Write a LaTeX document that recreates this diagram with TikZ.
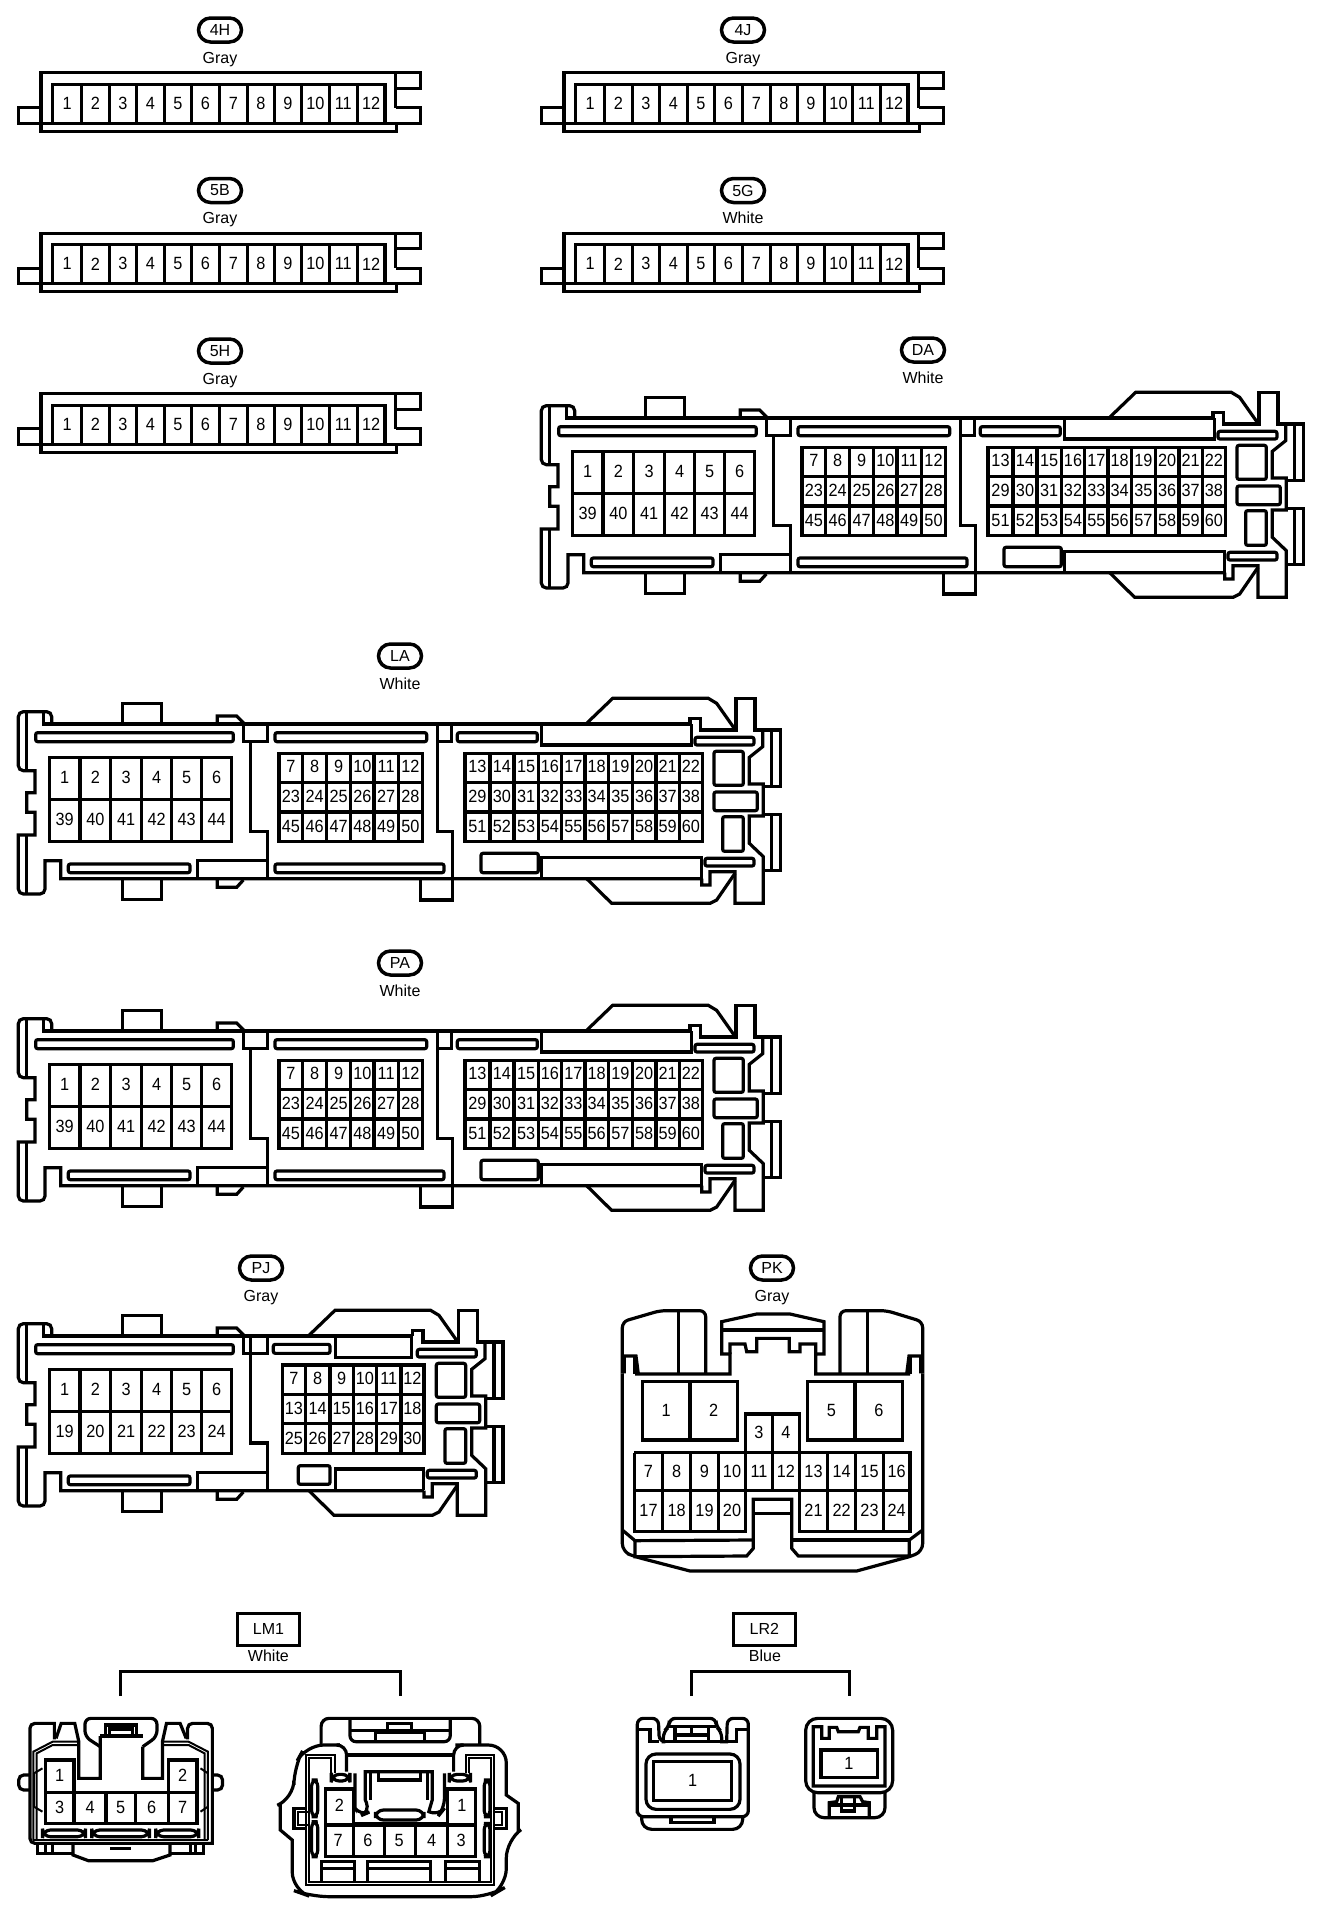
\documentclass[tikz,border=0pt]{standalone}
\usepackage{fontspec}
\setmainfont{Liberation Sans}
\newfontfamily\cellfont[FakeStretch=0.92]{Liberation Sans}
\usetikzlibrary{shapes.misc}
\tikzset{
  ink/.style={line width=3.2pt,line join=miter},
  thinwall/.style={line width=2pt},
  num/.style={inner sep=0pt,font=\cellfont\fontsize{17.7}{18}\selectfont},
  tagbox/.style={draw,rounded rectangle,line width=3.5pt,minimum width=43pt,minimum height=24pt,inner sep=0pt,font=\fontsize{16}{16}\selectfont},
  colourtext/.style={inner sep=0pt,anchor=base,font=\fontsize{16}{16}\selectfont},
  namebox/.style={draw,line width=3.2pt,minimum width=62pt,minimum height=32pt,inner sep=0pt,font=\fontsize{16}{16}\selectfont},
  zoomunits/.style={x=0.33333pt,y=-0.33333pt},
  zoomwide/.style={x=0.3398pt,y=-0.33333pt},
}
% row of consecutive numbers: y centre, cell boundaries, first number
\newcommand\numrow[3]{%
  \foreach \xb [remember=\xb as \xa (initially 0),count=\ci from 0] in {#2}{%
    \ifnum\ci>0
      \pgfmathtruncatemacro\cn{#3+\ci-1}%
      \node[num] at ({(\xa+\xb)/2},#1) {\cn};%
    \fi}}
% frame x0,x1,y0,y1 ; vertical separators ; horizontal separators
\newcommand\cellgrid[6]{%
  \draw (#1,#3) rectangle (#2,#4);
  \foreach \xv in {#5}{\draw (\xv,#3)--(\xv,#4);}
  \foreach \yv in {#6}{\draw (#1,\yv)--(#2,\yv);}}
\newcommand\conntag[5]{% node name, text, x, y, colour
  \node[tagbox] (tag#1) at (#3,#4) {#2};
  \node[colourtext] (col#1) at (#3,#4+33) {#5};}
% twelve-pin connector
\newcommand\twelve[2]{%
\begin{scope}[shift={(#1,#2)},zoomunits]
  \draw (123,323)--(55,323)--(55,370)--(1262,370)--(1262,323)--(1187,323);
  \draw (1187,218)--(1187,323);
  \draw (1187,265)--(1262,265)--(1262,218)--(123,218)--(123,394)--(1190,394)--(1190,370);
  \cellgrid{158}{1155}{253}{370}{245,328,410,493,575,658,742,823,905,988,1072}{}
  \numrow{310}{158,245,328,410,493,575,658,742,823,905,988,1072,1155}{1}
\end{scope}}
% left half shared by the long connectors (zoom units)
\newcommand\leftpart[3]{%
  \draw (155,252) [rounded corners=5pt] --(155,215)--(55,215) --(55,392) [sharp corners] --(105,392)--(105,458)--(80,458)--(80,517)--(105,517)--(105,585)--(55,585) [rounded corners=5pt] --(55,762)--(135,762) [sharp corners] --(135,662)--(182,662)--(182,716)--(#2,716);
  \draw (130,215)--(130,252)--(#1,252);
  \draw (80,215)--(80,392);
  \draw (80,585)--(80,762);
  \draw (367,252)--(367,190)--(485,190)--(485,252);
  \draw (367,716)--(367,778)--(485,778)--(485,716);
  \draw (652,252)--(652,228)--(710,228)--(732,250);
  \draw (652,716)--(652,742)--(710,742)--(730,720);
  \draw[rounded corners=2pt] (107,278) rectangle (700,305);
  \draw[rounded corners=2pt] (205,672) rectangle (570,698);
  \draw (730,252)--(730,305)--(803,305)--(803,252);
  \draw (752,305)--(752,574)--(803,574)--(803,716);
  \draw (592,716)--(592,662)--(803,662);
  \cellgrid{148}{695}{352}{604}{240,332,425,515,605}{478}
  \numrow{412}{148,240,332,425,515,605,695}{1}
  \numrow{538}{148,240,332,425,515,605,695}{#3}
}
% right end shared by the long connectors (zoom units, 60-pin position)
\newcommand\rightend{%
  \draw (2070,252)--(2070,235)--(2102,235)--(2102,270)--(2208,270)--(2208,175)--(2265,175)--(2265,270)--(2342,270)--(2342,440)--(2290,440);
  \draw (2288,270)--(2288,320)--(2248,352)--(2248,432)--(2290,432)--(2290,528)--(2248,528)--(2248,610)--(2290,650)--(2290,790)--(2205,790)--(2205,695)--(2130,695)--(2130,735)--(2105,735)--(2105,716);
  \draw (2290,524)--(2342,524)--(2342,692)--(2290,692);
  \draw (2315,270)--(2315,440);
  \draw (2315,524)--(2315,692);
  \draw (1760,250)--(1838,175)--(2125,175)--(2150,190)--(2205,268);
  \draw (1760,716)--(1835,790)--(2130,790)--(2150,780)--(2205,700);
  \draw[rounded corners=2pt] (2085,292) rectangle (2262,315);
  \draw[rounded corners=2pt] (2115,655) rectangle (2262,678);
  \draw[rounded corners=2pt] (2142,334) rectangle (2230,436);
  \draw[rounded corners=2pt] (2142,456) rectangle (2272,512);
  \draw[rounded corners=2pt] (2168,530) rectangle (2230,634);
}
% sixty-pin connector at a pixel offset
\newcommand\sixty[2]{%
\begin{scope}[shift={(#1,#2)},zoomunits]
  \leftpart{2070}{2105}{39}
  \rightend
  \draw[rounded corners=2pt] (825,278) rectangle (1280,305);
  \draw[rounded corners=2pt] (825,672) rectangle (1332,698);
  \cellgrid{837}{1268}{340}{604}{908,980,1052,1122,1195}{428,516}
  \numrow{380}{837,908,980,1052,1122,1195,1268}{7}
  \numrow{470}{837,908,980,1052,1122,1195,1268}{23}
  \numrow{558}{837,908,980,1052,1122,1195,1268}{45}
  \draw (1312,252)--(1312,574)--(1358,574)--(1358,780)--(1262,780)--(1262,716);
  \draw (1312,305)--(1355,305)--(1355,252);
  \draw[rounded corners=2pt] (1372,278) rectangle (1612,305);
  \draw (1625,252)--(1625,315)--(2075,315)--(2075,252);
  \draw (1625,716)--(1625,652)--(2105,652)--(2105,716);
  \draw[rounded corners=2pt] (1443,640) rectangle (1615,698);
  \cellgrid{1395}{2107}{340}{604}{1470,1542,1615,1685,1755,1825,1897,1968,2038}{428,516}
  \numrow{380}{1395,1470,1542,1615,1685,1755,1825,1897,1968,2038,2107}{13}
  \numrow{470}{1395,1470,1542,1615,1685,1755,1825,1897,1968,2038,2107}{29}
  \numrow{558}{1395,1470,1542,1615,1685,1755,1825,1897,1968,2038,2107}{51}
\end{scope}}
\begin{document}
\begin{tikzpicture}[x=1pt,y=-1pt,ink]
\useasboundingbox (0,0) rectangle (1328,1914);
\fill[white] (0,0) rectangle (1328,1914);
% twelve-pin connectors
\twelve{0}{0}\conntag{4H}{4H}{220}{30}{Gray}
\twelve{523}{0}\conntag{4J}{4J}{743}{30}{Gray}
\twelve{0}{160.5}\conntag{5B}{5B}{220}{190.5}{Gray}
\twelve{523}{160.5}\conntag{5G}{5G}{743}{190.5}{White}
\twelve{0}{321}\conntag{5H}{5H}{220}{351}{Gray}
% sixty-pin connectors
\sixty{523}{334}\conntag{DA}{DA}{923}{350}{White}
\sixty{0}{640}\conntag{LA}{LA}{400}{656}{White}
\sixty{0}{947}\conntag{PA}{PA}{400}{963}{White}
% PJ
\conntag{PJ}{PJ}{261}{1268}{Gray}
\begin{scope}[shift={(0,1252)},zoomunits]
  \leftpart{1237}{1272}{19}
  \begin{scope}[shift={(-833,0)}]\rightend\end{scope}
\end{scope}
\begin{scope}[shift={(0,1270)},zoomunits]
  \draw (752,198)--(752,518)--(803,518)--(803,660);
  \draw (730,198)--(730,250)--(803,250)--(803,198);
  \draw (592,660)--(592,607)--(803,607);
  \draw[rounded corners=2pt] (820,223) rectangle (990,250);
  \draw (1007,198)--(1007,262)--(1235,262)--(1235,198);
  \draw (1007,660)--(1007,597)--(1270,597)--(1270,660);
  \draw[rounded corners=2pt] (895,587) rectangle (990,643);
  \cellgrid{847}{1272}{285}{550}{916,990,1060,1130,1203}{373,461}
  \numrow{325}{847,916,990,1060,1130,1203,1272}{7}
  \numrow{415}{847,916,990,1060,1130,1203,1272}{13}
  \numrow{505}{847,916,990,1060,1130,1203,1272}{25}
\end{scope}
% PK
\conntag{PK}{PK}{772}{1268}{Gray}
\begin{scope}[shift={(610,1270)},zoomunits]
  \draw (37,310) [rounded corners=6pt] --(37,155)--(150,122)--(287,122) [sharp corners] --(287,312);
  \draw (690,312) [rounded corners=6pt] --(690,122)--(830,122)--(938,155) [sharp corners] --(938,310);
  \draw (205,122)--(205,312);
  \draw (773,122)--(773,312);
  \draw (75,312)--(360,312)--(360,252)--(335,252)--(335,155)--(440,132)--(540,132)--(642,155)--(642,252)--(617,252)--(617,312)--(900,312);
  \draw (335,180)--(642,180);
  \draw (360,252)--(360,222)--(405,222)--(410,245)--(440,245)--(440,205)--(538,205)--(538,245)--(570,245)--(570,222)--(617,222)--(617,252);
  \draw (43,310)--(43,258)--(78,258)--(85,312);
  \draw (75,258)--(75,312);
  \draw (932,310)--(932,258)--(897,258)--(890,312);
  \draw (900,258)--(900,312);
  \draw (37,310) [rounded corners=8pt] --(37,845)--(75,860) [sharp corners] --(240,903)--(740,903)--(898,860) [rounded corners=8pt] --(938,845) [sharp corners] --(938,310);
  \draw (37,780)--(75,812)--(430,810);
  \draw (75,812)--(75,860)--(410,858)--(430,835)--(430,688)--(545,688)--(545,835)--(565,858)--(898,858)--(898,810)--(938,780);
  \draw (545,810)--(898,810);
  \draw (430,730)--(545,730);
  \cellgrid{97}{382}{335}{510}{240}{}
  \cellgrid{593}{878}{335}{510}{735}{}
  \draw (407,548)--(407,432)--(568,432)--(568,548);
  \draw (487,432)--(487,662);
  \draw (73,548)--(900,548)--(900,785)--(568,785)--(568,548);
  \draw (73,548)--(73,785)--(407,785)--(407,548);
  \draw (73,662)--(900,662);
  \foreach \xv in {158,242,325,653,737,820}{\draw (\xv,548)--(\xv,785);}
  \numrow{420}{97,240,382}{1}
  \numrow{420}{593,735,878}{5}
  \numrow{487}{407,487,568}{3}
  \numrow{605}{73,158,242,325,407,487,568,653,737,820,900}{7}
  \numrow{722}{73,158,242,325,407}{17}
  \numrow{722}{568,653,737,820,900}{21}
\end{scope}
% LM1
\begin{scope}[shift={(0,1610)},zoomwide]
  \node[namebox] (lm) at (790,58) {LM1};
  \node[colourtext] (lmc) at (790,155) {White};
  \draw (355,258)--(355,185)--(1178,185)--(1178,258);
  % left plug
  \draw (160,388)--(160,340)[rounded corners=5pt]--(88,340)--(88,700)[sharp corners]--(625,700)[rounded corners=5pt]--(625,340)--(552,340)[sharp corners]--(552,388);
  \draw (165,385)--(180,340)--(220,340)--(232,395)--(232,505)--(295,505)--(295,378);
  \draw (548,385)--(530,340)--(490,340)--(478,395)--(478,505)--(420,505)--(420,410);
  \draw[rounded corners=6pt] (295,410)--(250,380)--(250,325)--(462,325)--(462,380)--(420,410);
  \draw (295,378)--(420,378);
  \draw (310,385)--(310,345)--(402,345)--(402,385);
  \draw (322,385)--(322,357)--(390,357)--(390,385);
  \draw[thinwall] (98,690)--(98,425)--(155,395)--(232,395);
  \draw[thinwall] (612,690)--(612,425)--(555,395)--(478,395);
  \draw[thinwall] (108,690)--(108,430)--(155,405)--(232,405);
  \draw[thinwall] (602,690)--(602,430)--(555,405)--(478,405);
  \draw[thinwall] (98,690)--(612,690);
  \draw (133,548)--(133,450)--(218,450)--(218,548);
  \draw (495,548)--(495,450)--(580,450)--(580,548);
  \cellgrid{133}{580}{548}{640}{218,312,398,495}{}
  \numrow{497}{133,218}{1}
  \numrow{497}{495,580}{2}
  \numrow{593}{133,218,312,398,495,580}{3}
  \draw[rounded corners=8pt] (125,660) rectangle (252,680);
  \draw[rounded corners=8pt] (270,660) rectangle (440,680);
  \draw[rounded corners=8pt] (458,660) rectangle (585,680);
  \draw[rounded corners=5pt] (88,495)--(55,495)--(55,540)--(88,540);
  \draw[rounded corners=5pt] (625,495)--(655,495)--(655,540)--(625,540);
  \draw[thinwall] (125,605)--(100,590)--(100,490)--(125,475);
  \draw[thinwall] (590,605)--(612,590)--(612,490)--(590,475);
  \draw (110,700)--(110,730)--(215,730);
  \draw (600,700)--(600,730)--(500,730);
  \draw (135,705)--(135,730);
  \draw (155,705)--(155,730);
  \draw (560,705)--(560,730);
  \draw (575,705)--(575,730);
  \draw (215,705)--(215,735)--(260,752)--(450,752)--(500,735)--(500,705);
  \draw (325,715)--(385,715);
  % right plug
  \draw[rounded corners=8pt] (945,405)--(945,325)--(1412,325)--(1412,405);
  \draw[rounded corners=6pt] (1030,330)--(1030,395)--(1325,395)--(1325,330);
  \draw (1030,362)--(1325,362);
  \draw (1105,392)--(1105,368)--(1250,368)--(1250,392);
  \draw (1140,360)--(1140,340)--(1212,340)--(1212,360);
  \draw[rounded corners=18pt] (1000,405)--(900,405)--(865,470)--(865,565) [sharp corners] --(825,582)--(825,660)--(860,690) [rounded corners=18pt] --(860,840)--(915,860)--(1440,860)--(1490,830)--(1490,690) [sharp corners] --(1525,665)--(1525,580)--(1490,555) [rounded corners=18pt] --(1490,405)--(1340,405);
  \draw[rounded corners=10pt] (1000,405)--(1020,405)--(1020,485);
  \draw[rounded corners=10pt] (1355,405)--(1335,405)--(1335,485);
  \draw (1020,435)--(1335,435);
  \draw[thinwall] (985,490)--(985,435)--(900,435)--(900,825)--(1455,825)--(1455,435)--(1370,435)--(1370,490);
  \draw[thinwall] (975,490)--(975,445)--(910,445)--(910,815)--(1445,815)--(1445,445)--(1380,445)--(1380,490);
  \draw[rounded corners=8pt] (975,493) rectangle (1030,513);
  \draw[rounded corners=8pt] (1322,493) rectangle (1385,513);
  \draw (957,645)--(957,537)--(1040,537)--(1040,645);
  \draw (1318,645)--(1318,537)--(1400,537)--(1400,645);
  \cellgrid{957}{1400}{645}{740}{1040,1132,1222,1318}{}
  \draw (1040,640)--(1318,640);
  \numrow{585}{957,1040}{2}
  \numrow{585}{1318,1400}{1}
  \node[num] at (995,690) {7};
  \node[num] at (1083,690) {6};
  \node[num] at (1175,690) {5};
  \node[num] at (1270,690) {4};
  \node[num] at (1357,690) {3};
  \draw (1045,490)--(1045,595)[rounded corners=10pt]--(1060,618)--(1090,605)[sharp corners]--(1075,570)--(1075,485)--(1272,485)--(1272,570)--(1262,605)[rounded corners=10pt]--(1290,618)--(1308,595)[sharp corners]--(1308,490);
  \draw (1090,485)--(1090,570);
  \draw (1258,485)--(1258,570);
  \draw (1115,490)--(1115,510)--(1238,510)--(1238,490);
  \draw[rounded corners=8pt] (1105,600) rectangle (1248,630);
  \draw[rounded corners=6pt] (917,510) rectangle (935,620);
  \draw[rounded corners=6pt] (917,635) rectangle (935,740);
  \draw[rounded corners=6pt] (1425,510) rectangle (1442,620);
  \draw[rounded corners=6pt] (1425,640) rectangle (1442,740);
  \draw (900,595)--(865,595)--(865,655)--(900,655);
  \draw[thinwall] (905,605)--(877,605)--(877,645)--(905,645);
  \draw (1455,595)--(1490,595)--(1490,655)--(1455,655);
  \draw[thinwall] (1450,605)--(1478,605)--(1478,645)--(1450,645);
  \draw (945,812)--(945,755)--(1043,755)--(1043,812);
  \draw (945,775)--(1043,775);
  \draw (1082,812)--(1082,755)--(1268,755)--(1268,812);
  \draw (1082,775)--(1268,775);
  \draw (1310,812)--(1310,755)--(1410,755)--(1410,812);
  \draw (1310,775)--(1410,775);
\end{scope}
% LR2
\begin{scope}[shift={(620,1610)},zoomunits]
  \node[namebox] (lr) at (433,58) {LR2};
  \node[colourtext] (lrc) at (435,155) {Blue};
  \draw (215,258)--(215,185)--(688,185)--(688,258);
  \draw[rounded corners=6pt] (52,620)--(52,325)--(115,325)--(118,395)[sharp corners]--(130,395)[rounded corners=6pt]--(130,365)--(148,350)--(148,325)--(288,325)--(288,350)--(305,365)[sharp corners]--(305,395)--(320,395)[rounded corners=6pt]--(322,325)--(385,325)--(385,620)--(52,620)--cycle;
  \draw (55,358)--(90,358)--(90,395)--(118,395);
  \draw (385,358)--(350,358)--(350,395)--(322,395);
  \draw (148,350)--(288,350);
  \draw (130,395)--(305,395);
  \draw (165,395)--(165,352);
  \draw (265,395)--(265,352);
  \draw (165,375)--(265,375);
  \draw (215,355)--(215,375);
  \draw[rounded corners=10pt] (78,432) rectangle (360,598);
  \draw (100,455) rectangle (335,572);
  \node[num] (lra) at (218,510) {1};
  \draw[rounded corners=10pt] (65,620)--(65,658)--(368,658)--(368,620);
  \draw (153,620)--(153,638)--(282,638)--(282,620);
  \draw[rounded corners=12pt] (557,325) rectangle (818,548);
  \draw (580,528)--(580,350)--(605,350)--(605,385)--(628,385)--(628,352)--(650,352)--(655,365)--(715,365)--(720,352)--(745,352)--(745,385)--(770,385)--(770,350)--(795,350)--(795,528)--cycle;
  \draw (603,420) rectangle (772,503);
  \node[num] (lrb) at (687,460) {1};
  \draw[rounded corners=10pt] (582,548)--(582,623)--(795,623)--(795,548);
  \draw (628,623)--(628,578)--(650,575)--(655,560)--(720,560)--(728,575)--(748,578)--(748,623);
  \draw (628,585)--(748,585);
  \draw (665,560)--(665,603)--(703,603)--(703,560);
\end{scope}
\end{tikzpicture}
\end{document}
